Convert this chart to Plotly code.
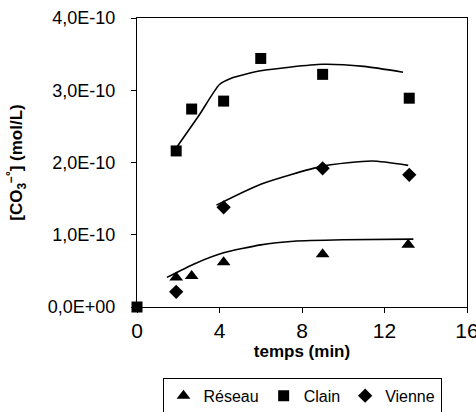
import plotly.graph_objects as go

# Data (time in min, concentration in mol/L)
reseau_t = [1.9, 2.65, 4.2, 9.0, 13.15]
reseau_c = [0.41e-10, 0.43e-10, 0.62e-10, 0.73e-10, 0.86e-10]
clain_t = [0.0, 1.9, 2.65, 4.2, 6.0, 9.0, 13.2]
clain_c = [0.0, 2.16e-10, 2.74e-10, 2.85e-10, 3.44e-10, 3.22e-10, 2.89e-10]
vienne_t = [1.9, 4.2, 9.0, 13.2]
vienne_c = [0.21e-10, 1.38e-10, 1.92e-10, 1.83e-10]

# Trend curves as drawn
reseau_fit_t = [1.45, 2.8, 4.2, 6.0, 7.6, 10.0, 13.4]
reseau_fit_c = [0.41e-10, 0.6e-10, 0.75e-10, 0.86e-10, 0.91e-10, 0.93e-10, 0.94e-10]
clain_fit_t = [1.9, 3.0, 4.0, 4.6, 6.0, 9.0, 11.0, 12.9]
clain_fit_c = [2.2e-10, 2.65e-10, 3.08e-10, 3.17e-10, 3.27e-10, 3.36e-10, 3.33e-10, 3.25e-10]
vienne_fit_t = [3.85, 6.0, 9.0, 11.4, 13.15]
vienne_fit_c = [1.41e-10, 1.7e-10, 1.95e-10, 2.02e-10, 1.96e-10]

y_ticks = [0, 1e-10, 2e-10, 3e-10, 4e-10]
y_tick_labels = ["0,0E+00", "1,0E-10", "2,0E-10", "3,0E-10", "4,0E-10"]
x_ticks = [0, 4, 8, 12, 16]

FONT = "Liberation Sans, Arial, sans-serif"

fig = go.Figure()
line_style = dict(color="black", width=1.6, shape="spline", smoothing=0.6)
for t, c in [(reseau_fit_t, reseau_fit_c), (clain_fit_t, clain_fit_c), (vienne_fit_t, vienne_fit_c)]:
    fig.add_trace(go.Scatter(x=t, y=c, mode="lines", line=line_style, showlegend=False, hoverinfo="skip"))

fig.add_trace(go.Scatter(x=reseau_t, y=reseau_c, mode="markers", name="Réseau", cliponaxis=False,
                         marker=dict(symbol="triangle-up", size=12, color="black")))
fig.add_trace(go.Scatter(x=clain_t, y=clain_c, mode="markers", name="Clain", cliponaxis=False,
                         marker=dict(symbol="square", size=11, color="black")))
fig.add_trace(go.Scatter(x=vienne_t, y=vienne_c, mode="markers", name="Vienne", cliponaxis=False,
                         marker=dict(symbol="diamond", size=11, color="black")))

fig.update_layout(
    width=476, height=412,
    margin=dict(l=137, r=9, t=18, b=105, autoexpand=False),
    paper_bgcolor="white", plot_bgcolor="white",
    font=dict(family=FONT, color="black", size=16),
    legend=dict(orientation="h", x=0.5, xanchor="center", y=-0.245, yanchor="top",
                bordercolor="black", borderwidth=1, font=dict(size=16),
                itemwidth=30, tracegroupgap=0),
)
fig.update_xaxes(range=[0, 16], tickvals=x_ticks, ticks="outside", ticklen=5, tickcolor="black",
                 showline=True, linecolor="black", linewidth=1.2, mirror=True, showgrid=False,
                 zeroline=False, tickfont=dict(size=21), automargin=False, ticklabeloverflow="allow",
                 title=dict(text="<b>temps (min)</b>", font=dict(size=17), standoff=0))
fig.update_yaxes(range=[0, 4e-10], tickvals=y_ticks, ticktext=y_tick_labels, ticks="outside",
                 ticklen=5, tickcolor="black", showline=True, linecolor="black", linewidth=1.2,
                 mirror=True, showgrid=False, zeroline=False, tickfont=dict(size=18), automargin=False,
                 ticklabelstandoff=12,
                 title=dict(text="<b>[CO<sub>3</sub><sup>−°</sup>] (mol/L)</b>", font=dict(size=17), standoff=20))

fig.write_html(
    "out.html",
    config={"displayModeBar": False},
    post_script="document.body.style.margin='0';document.documentElement.style.overflow='hidden';document.body.style.overflow='hidden';",
)
